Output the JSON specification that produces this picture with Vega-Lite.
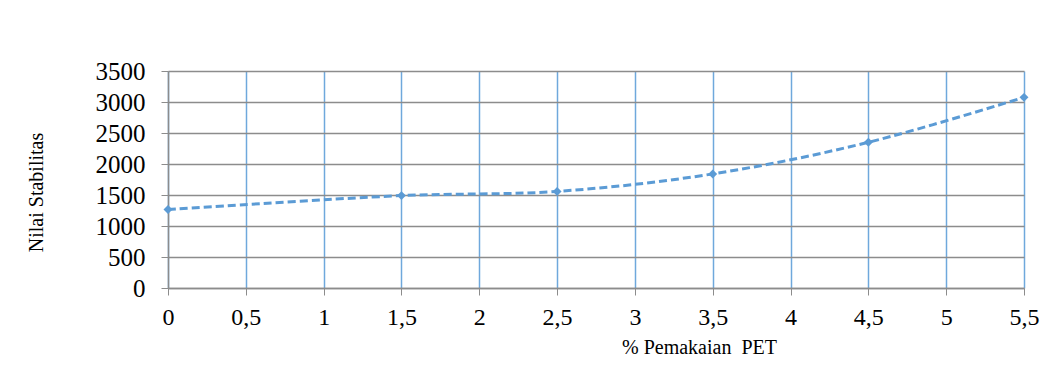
{
  "$schema": "https://vega.github.io/schema/vega-lite/v6.json",
  "autosize": {"type": "none"},
  "width": 856,
  "height": 217,
  "padding": {"left": 168, "top": 71, "right": 34, "bottom": 79},
  "background": "white",
  "config": {
    "view": {"stroke": null},
    "axis": {"labelFont": "Liberation Serif", "titleFont": "Liberation Serif", "labelColor": "#000000", "titleColor": "#000000", "titleFontWeight": "normal"}
  },
  "data": {
    "values": [
      {"pet": 0, "stabilitas": 1265},
      {"pet": 1.5, "stabilitas": 1490},
      {"pet": 2.5, "stabilitas": 1558},
      {"pet": 3.5, "stabilitas": 1840},
      {"pet": 4.5, "stabilitas": 2350},
      {"pet": 5.5, "stabilitas": 3075}
    ]
  },
  "encoding": {
    "x": {
      "field": "pet",
      "type": "quantitative",
      "scale": {"domain": [0, 5.5], "nice": false, "zero": true},
      "axis": {
        "values": [0, 0.5, 1, 1.5, 2, 2.5, 3, 3.5, 4, 4.5, 5, 5.5],
        "labelExpr": "replace(toString(datum.value), '.', ',')",
        "labelFontSize": 24,
        "labelPadding": 10,
        "labelFlush": false,
        "tickSize": 7,
        "tickColor": "#8c8c8c",
        "domainColor": "#8c8c8c",
        "domainWidth": 1.5,
        "gridColor": "#6fa8dc",
        "gridWidth": 1.5,
        "gridOpacity": 1,
        "title": "% Pemakaian\u00a0\u00a0PET",
        "titleFontSize": 20,
        "titleX": 531,
        "titleY": 65,
        "titleAlign": "center",
        "titleBaseline": "alphabetic"
      }
    },
    "y": {
      "field": "stabilitas",
      "type": "quantitative",
      "scale": {"domain": [0, 3500], "nice": false},
      "axis": {
        "values": [0, 500, 1000, 1500, 2000, 2500, 3000, 3500],
        "format": "d",
        "labelFontSize": 25,
        "labelPadding": 16,
        "labelFlush": false,
        "tickSize": 7,
        "tickColor": "#8c8c8c",
        "domainColor": "#8c8c8c",
        "domainWidth": 1.5,
        "gridColor": "#8c8c8c",
        "gridWidth": 1.5,
        "gridOpacity": 1,
        "title": "Nilai Stabilitas",
        "titleFontSize": 20,
        "titleAngle": -90,
        "titleX": -132,
        "titleY": 121,
        "titleAlign": "center",
        "titleBaseline": "middle"
      }
    }
  },
  "layer": [
    {
      "mark": {"type": "line", "interpolate": "catmull-rom", "color": "#5b9bd5", "strokeWidth": 3, "strokeDash": [8, 4]}
    },
    {
      "mark": {"type": "point", "shape": "diamond", "filled": true, "color": "#5b9bd5", "size": 80, "opacity": 1}
    }
  ]
}
